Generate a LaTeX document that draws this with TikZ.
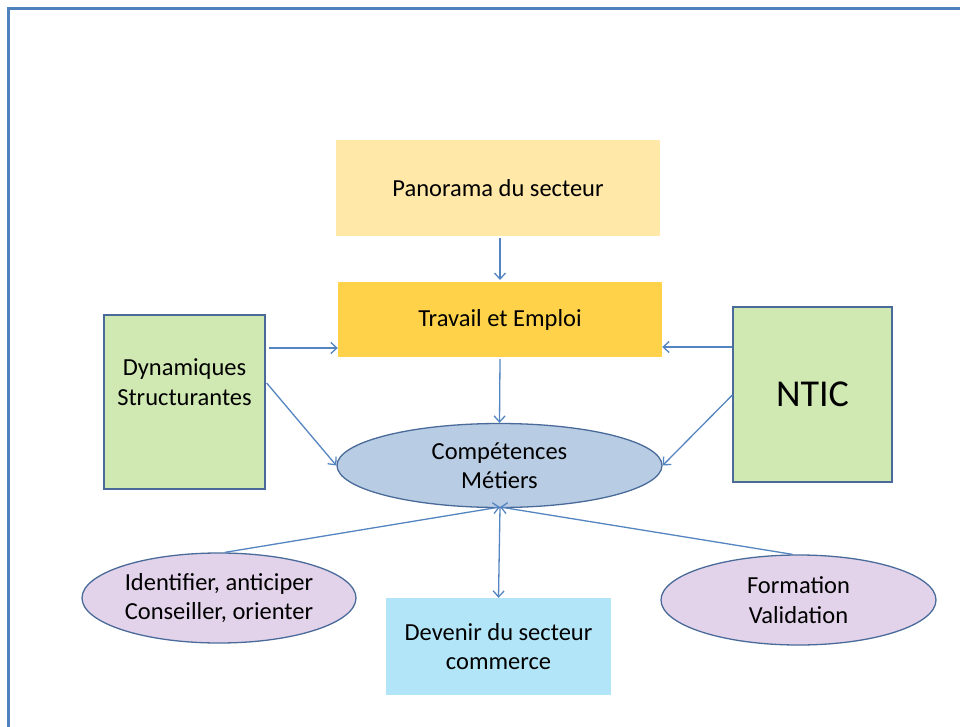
\documentclass[tikz,border=0pt]{standalone}
\usepackage{fontspec}
\setmainfont{Carlito}
\usetikzlibrary{arrows.meta,shapes.geometric}
\definecolor{frameblue}{HTML}{4F81BD}
\definecolor{edgeblue}{HTML}{4A6B9A}
\definecolor{arrowblue}{HTML}{5585C0}
\definecolor{panofill}{HTML}{FFE8A8}
\definecolor{travfill}{HTML}{FFD24A}
\definecolor{greenfill}{HTML}{D0E8B2}
\definecolor{compfill}{HTML}{B8CCE4}
\definecolor{lavfill}{HTML}{E2D3EA}
\definecolor{cyanfill}{HTML}{B3E5F8}
\begin{document}
\begin{tikzpicture}[x=1pt,y=-1pt,
  txt/.style={font=\fontsize{24.5}{29.5}\selectfont, align=center, text=black},
  flatbox/.style={txt, rectangle, inner sep=0pt},
  greenbox/.style={txt, rectangle, fill=greenfill, draw=edgeblue, line width=1.3pt, inner sep=0pt},
  oval/.style={txt, ellipse, draw=edgeblue, line width=1.3pt, inner sep=0pt},
  conn/.style={draw=arrowblue, line width=1.3pt, -{Straight Barb[length=6pt,width=11pt]}}
]
\useasboundingbox (0,0) rectangle (960,727);
% frame (left and top edges visible)
\draw[frameblue, line width=2.2pt] (8.5,740) -- (8.5,8.5) -- (970,8.5);

\node[flatbox, fill=panofill, minimum width=324pt, minimum height=96pt] (pano) at (498,188) {Panorama du secteur};
\node[flatbox, fill=travfill, minimum width=324pt, minimum height=75pt] (trav) at (500,319.5) {Travail et Emploi};
\node[greenbox, minimum width=161pt, minimum height=174pt] (dyn) at (184.5,402) {};
\node[txt] (dyntxt) at (184.5,382) {Dynamiques\\Structurantes};
\node[greenbox, minimum width=159pt, minimum height=175pt, font=\fontsize{38}{42}\selectfont] (ntic) at (812.5,394.5) {NTIC};
\node[oval, fill=compfill, minimum width=325pt, minimum height=84pt] (comp) at (499.5,465.5) {Compétences\\Métiers};
\node[oval, fill=lavfill, minimum width=274pt, minimum height=90pt] (ident) at (219,598) {Identifier, anticiper\\Conseiller, orienter};
\node[oval, fill=lavfill, minimum width=275pt, minimum height=90pt] (form) at (798.5,600) {Formation\\Validation};
\node[flatbox, fill=cyanfill, minimum width=225pt, minimum height=97pt] (dev) at (498.5,646.5) {Devenir du secteur\\commerce};

\coordinate (cb) at (500,507);
\draw[conn] (pano.south -| 500,0) ++(0,2) -- (500,280);
\draw[conn] (dyn.east |- 0,348) ++(3,0) -- (trav.west |- 0,348);
\draw[conn] (ntic.west |- 0,347) -- (trav.east |- 0,347);
\draw[conn] (trav.south) ++(0,2) -- (comp.north);
\draw[conn] (dyn.east |- 0,383) ++(1,0) -- (comp.west);
\draw[conn] (ntic.west |- 0,395) -- (comp.east);
\draw[conn] (ident.north) ++(6,0) -- (cb);
\draw[conn] (form.north) ++(-6,0) -- (cb);
\draw[conn] (cb) -- (dev.north);
\end{tikzpicture}
\end{document}
